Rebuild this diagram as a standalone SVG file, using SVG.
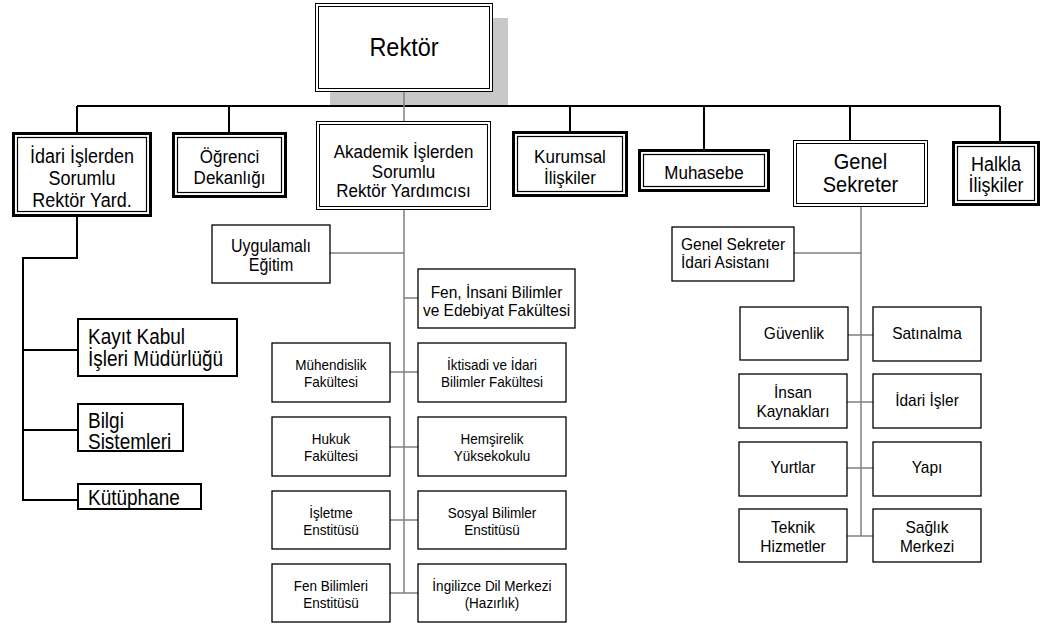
<svg xmlns="http://www.w3.org/2000/svg" width="1044" height="626" viewBox="0 0 1044 626">
  <style>
    text{font-family:"Liberation Sans",Arial,Helvetica,sans-serif;fill:#000;text-anchor:middle;transform-box:fill-box;transform-origin:center;transform:scaleY(1.12)}
    .l{text-anchor:start}
    .box{fill:#fff;stroke:#000;stroke-width:1.3}
    .thin{fill:#fff;stroke:#000;stroke-width:1}
    .heavy{fill:#fff;stroke:#000;stroke-width:3}
    .heavy-in{fill:none;stroke:#000;stroke-width:1.2}
    .plain2{fill:#fff;stroke:#000;stroke-width:2}
    .cb{fill:none;stroke:#000;stroke-width:2}
    .cg{fill:none;stroke:#808080;stroke-width:1.5}
    .f24{font-size:23.5px}.f20{font-size:20px}.f19{font-size:19px}.f18{font-size:18px}.f17{font-size:17px}
    .f16{font-size:16px}.f155{font-size:15.5px}.f135{font-size:13.5px}
  </style>

  <!-- shadow behind the top box -->
  <rect x="330" y="18" width="178" height="88" fill="#c8c8c8"/>

  <g id="connectors">
    <path class="cb" d="M77,106 H1000 M77,106 V132 M229,106 V132 M570,106 V131 M704,106 V149 M850,106 V140 M1000,106 V141"/>
    <path class="cg" d="M404,92 V121"/>
    <path class="cb" d="M77,217 V258 H23 V500 H77 M23,350 H77 M23,430 H77"/>
    <path class="cg" d="M404,210 V593 M330,253 H404 M404,298 H418 M390,372 H418 M390,447 H418 M390,520 H418 M390,593 H418"/>
    <path class="cg" d="M861,207 V536 M794,253 H861 M848,335 H873 M847,402 H873 M847,468 H873 M847,536 H873"/>
  </g>

  <g id="rektor">
    <rect class="thin" x="315.5" y="3.5" width="177" height="88"/>
    <rect class="thin" x="318.5" y="6.5" width="171" height="82"/>
    <text class="f24" x="404" y="55">Rektör</text>
  </g>

  <g id="idari-rektor-yard">
    <rect class="heavy" x="13.5" y="133.5" width="137" height="82"/>
    <rect class="heavy-in" x="17.5" y="137.5" width="129" height="74"/>
    <text class="f18" x="82" y="162">İdari İşlerden</text>
    <text class="f18" x="82" y="184">Sorumlu</text>
    <text class="f18" x="82" y="206">Rektör Yard.</text>
  </g>

  <g id="ogrenci-dekanligi">
    <rect class="heavy" x="173.5" y="133.5" width="112" height="63"/>
    <rect class="heavy-in" x="177.5" y="137.5" width="104" height="55"/>
    <text class="f17" x="229.5" y="162">Öğrenci</text>
    <text class="f17" x="229.5" y="183">Dekanlığı</text>
  </g>

  <g id="akademik-rektor-yard">
    <rect class="thin" x="316.5" y="121.5" width="174" height="88"/>
    <rect class="thin" x="319.5" y="124.5" width="168" height="82"/>
    <text class="f17" x="403.5" y="157">Akademik İşlerden</text>
    <text class="f17" x="403.5" y="177">Sorumlu</text>
    <text class="f17" x="403.5" y="196">Rektör Yardımcısı</text>
  </g>

  <g id="kurumsal-iliskiler">
    <rect class="heavy" x="513.5" y="132.5" width="113" height="63"/>
    <rect class="heavy-in" x="517.5" y="136.5" width="105" height="55"/>
    <text class="f17" x="570" y="162">Kurumsal</text>
    <text class="f17" x="570" y="183">İlişkiler</text>
  </g>

  <g id="muhasebe">
    <rect class="heavy" x="639.5" y="150.5" width="129" height="40"/>
    <rect class="heavy-in" x="643.5" y="154.5" width="121" height="32"/>
    <text class="f17" x="704" y="178">Muhasebe</text>
  </g>

  <g id="genel-sekreter">
    <rect class="thin" x="793.5" y="140.5" width="134" height="66"/>
    <rect class="thin" x="796.5" y="143.5" width="128" height="60"/>
    <text class="f20" x="860.5" y="168">Genel</text>
    <text class="f20" x="860.5" y="191">Sekreter</text>
  </g>

  <g id="halkla-iliskiler">
    <rect class="heavy" x="953.5" y="142.5" width="85" height="62"/>
    <rect class="heavy-in" x="957.5" y="146.5" width="77" height="54"/>
    <text class="f18" x="996" y="170">Halkla</text>
    <text class="f18" x="996" y="191">İlişkiler</text>
  </g>

  <!-- units under the administrative vice rector -->
  <g id="kayit-kabul">
    <rect class="plain2" x="78" y="319" width="159" height="57"/>
    <text class="f19 l" x="88" y="343">Kayıt Kabul</text>
    <text class="f19 l" x="88" y="365">İşleri Müdürlüğü</text>
  </g>
  <g id="bilgi-sistemleri">
    <rect class="plain2" x="78" y="404" width="105" height="47"/>
    <text class="f19 l" x="88" y="427">Bilgi</text>
    <text class="f19 l" x="88" y="448">Sistemleri</text>
  </g>
  <g id="kutuphane">
    <rect class="plain2" x="78" y="484" width="123" height="25"/>
    <text class="f19 l" x="88" y="504">Kütüphane</text>
  </g>

  <!-- academic units -->
  <g id="uygulamali-egitim">
    <rect class="box" x="212" y="225" width="118" height="58"/>
    <text class="f16" x="271" y="251">Uygulamalı</text>
    <text class="f16" x="271" y="270">Eğitim</text>
  </g>
  <g id="fen-insani">
    <rect class="box" x="418" y="269" width="157" height="59"/>
    <text class="f155" x="496.5" y="297">Fen, İnsani Bilimler</text>
    <text class="f155" x="496.5" y="315">ve Edebiyat Fakültesi</text>
  </g>
  <g id="muhendislik">
    <rect class="box" x="272" y="343" width="118" height="59"/>
    <text class="f135" x="331" y="369">Mühendislik</text>
    <text class="f135" x="331" y="386">Fakültesi</text>
  </g>
  <g id="iktisadi-idari">
    <rect class="box" x="418" y="343" width="148" height="59"/>
    <text class="f135" x="492" y="369">İktisadi ve İdari</text>
    <text class="f135" x="492" y="386">Bilimler Fakültesi</text>
  </g>
  <g id="hukuk">
    <rect class="box" x="272" y="417" width="118" height="59"/>
    <text class="f135" x="331" y="443">Hukuk</text>
    <text class="f135" x="331" y="460">Fakültesi</text>
  </g>
  <g id="hemsirelik">
    <rect class="box" x="418" y="417" width="148" height="59"/>
    <text class="f135" x="492" y="443">Hemşirelik</text>
    <text class="f135" x="492" y="460">Yüksekokulu</text>
  </g>
  <g id="isletme-enstitusu">
    <rect class="box" x="272" y="491" width="118" height="58"/>
    <text class="f135" x="331" y="517">İşletme</text>
    <text class="f135" x="331" y="534">Enstitüsü</text>
  </g>
  <g id="sosyal-bilimler">
    <rect class="box" x="418" y="491" width="148" height="58"/>
    <text class="f135" x="492" y="517">Sosyal Bilimler</text>
    <text class="f135" x="492" y="534">Enstitüsü</text>
  </g>
  <g id="fen-bilimleri">
    <rect class="box" x="272" y="564" width="118" height="58"/>
    <text class="f135" x="331" y="590">Fen Bilimleri</text>
    <text class="f135" x="331" y="607">Enstitüsü</text>
  </g>
  <g id="ingilizce-dil">
    <rect class="box" x="418" y="564" width="148" height="58"/>
    <text class="f135" x="492" y="590">İngilizce Dil Merkezi</text>
    <text class="f135" x="492" y="607">(Hazırlık)</text>
  </g>

  <!-- units under the general secretary -->
  <g id="gs-idari-asistan">
    <rect class="box" x="672" y="227" width="122" height="54"/>
    <text class="f155 l" x="681" y="249">Genel Sekreter</text>
    <text class="f155 l" x="681" y="267">İdari Asistanı</text>
  </g>
  <g id="guvenlik">
    <rect class="box" x="740" y="307" width="108" height="53"/>
    <text class="f155" x="794" y="338">Güvenlik</text>
  </g>
  <g id="satinalma">
    <rect class="box" x="873" y="307" width="108" height="54"/>
    <text class="f155" x="927" y="338">Satınalma</text>
  </g>
  <g id="insan-kaynaklari">
    <rect class="box" x="739" y="374" width="108" height="54"/>
    <text class="f155" x="793" y="397">İnsan</text>
    <text class="f155" x="793" y="416">Kaynakları</text>
  </g>
  <g id="idari-isler">
    <rect class="box" x="873" y="374" width="108" height="54"/>
    <text class="f155" x="927" y="405">İdari İşler</text>
  </g>
  <g id="yurtlar">
    <rect class="box" x="739" y="442" width="108" height="54"/>
    <text class="f155" x="793" y="472">Yurtlar</text>
  </g>
  <g id="yapi">
    <rect class="box" x="873" y="442" width="108" height="54"/>
    <text class="f155" x="927" y="472">Yapı</text>
  </g>
  <g id="teknik-hizmetler">
    <rect class="box" x="739" y="509" width="108" height="53"/>
    <text class="f155" x="793" y="532">Teknik</text>
    <text class="f155" x="793" y="551">Hizmetler</text>
  </g>
  <g id="saglik-merkezi">
    <rect class="box" x="873" y="509" width="108" height="53"/>
    <text class="f155" x="927" y="532">Sağlık</text>
    <text class="f155" x="927" y="551">Merkezi</text>
  </g>
</svg>
